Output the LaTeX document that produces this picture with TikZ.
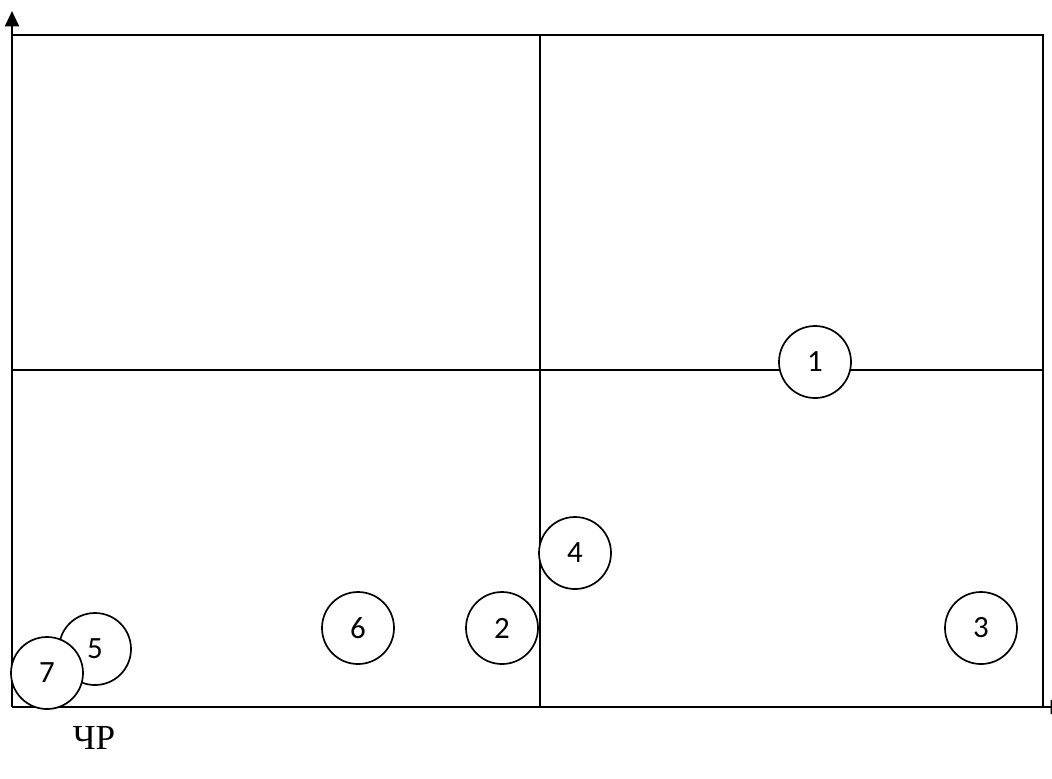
\documentclass[tikz,border=0pt]{standalone}
\usepackage{fontspec}
\setmainfont{Liberation Serif}
\newfontfamily\numfont{Carlito}
\usetikzlibrary{arrows.meta, positioning}
\tikzset{
  axis/.style={
    -{Triangle[length=11pt, width=10pt]}, line width=1.6pt, color=black
  },
  frameline/.style={
    line width=1.2pt, color=black
  },
  itembox/.style={
    circle, draw=black, line width=1.2pt, fill=none,
    minimum size=1.8cm, inner sep=0pt,
    font=\numfont\fontsize{22}{24}\selectfont
  }
}
\begin{document}
\begin{tikzpicture}[x=0.025cm, y=-0.025cm]

  \useasboundingbox (0,0) rectangle (1052,778);

  % ── Corners of the field ──────────────────────────────
  \coordinate (o)  at (12,707);
  \coordinate (tl) at (12,35);
  \coordinate (tr) at (1043,35);
  \coordinate (br) at (1043,707);
  \coordinate (ytop) at (12,11);
  \coordinate (xend) at (1066,707);
  \coordinate (mt) at (540,35);
  \coordinate (mb) at (540,707);
  \coordinate (ml) at (12,370);
  \coordinate (mr) at (1043,370);

  % ── Frame and midlines ────────────────────────────────
  \draw[frameline] (tl) -- (tr) -- (br);
  \draw[frameline] (mt) -- (mb);
  \draw[frameline] (ml) -- (mr);

  % ── Axes ──────────────────────────────────────────────
  \draw[axis] (o) -- (ytop);
  \draw[axis] (o) -- (xend);

  % ── Items ─────────────────────────────────────────────
  \node[itembox, fill=white] (one)   at (815,362) {1};
  \node[itembox, fill=white] (four)  at (575,553) {4};
  \node[itembox] (two)   at (502,628) {2};
  \node[itembox] (six)   at (358,628) {6};
  \node[itembox] (three) at (981,628) {3};
  \node[itembox] (five)  at (95,649)  {5};
  \node[itembox, fill=white] (seven) at (47,673)  {7};

  % ── Axis label ────────────────────────────────────────
  \node[font=\fontsize{25}{28}\selectfont] (chr) at (94,738) {ЧР};

\end{tikzpicture}
\end{document}
